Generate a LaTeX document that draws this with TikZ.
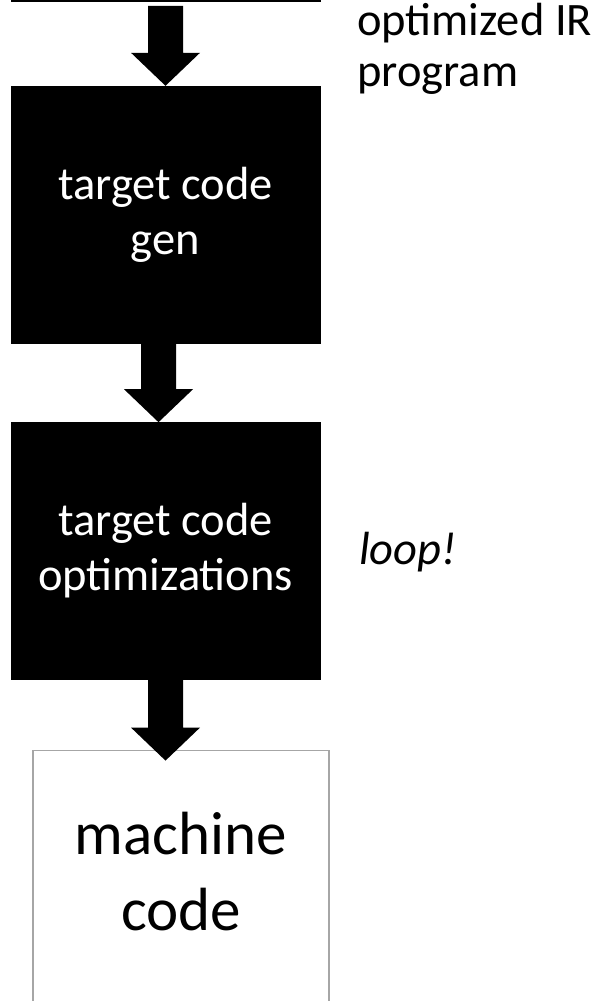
\documentclass[tikz,border=0pt]{standalone}
\usepackage{fontspec}
\setmainfont{Carlito}
\usepackage{tikz}
\usetikzlibrary{positioning, calc}
\tikzset{
    stage/.style={draw=black, fill=black, text=white, align=center, minimum width=309pt, minimum height=257pt, inner sep=0pt, font=\fontsize{46.5}{55}\selectfont},
    result/.style={draw=black!35, line width=1.5pt, fill=white, align=center, minimum width=296pt, minimum height=290pt, inner sep=0pt, font=\fontsize{61}{76}\selectfont},
    note/.style={align=left, inner sep=0pt, font=\fontsize{46.5}{51}\selectfont},
    fat/.style={to path={let \p1=(\tikztostart), \p2=(\tikztotarget) in
        (\x2-17.5pt,\y1) -- (\x2-17.5pt,\y2+33pt) -- (\x2-34.5pt,\y2+33pt) -- (\x2,\y2)
        -- (\x2+34.5pt,\y2+33pt) -- (\x2+17.5pt,\y2+33pt) -- (\x2+17.5pt,\y1) -- cycle}},
}
\begin{document}
\begin{tikzpicture}[x=1pt, y=-1pt]
    \useasboundingbox (0,0) rectangle (615,1001);
    \clip (0,0) rectangle (615,1001);

    \node[stage] (gen) at (165.5,214.5) {target code\\gen};
    \node[stage, above=84pt of gen] (ir) {};
    \node[stage, below=79pt of gen] (opt) {target code\\optimizations};
    \node[result, below=70pt of opt, xshift=15.5pt, anchor=north] (mc) {};
    \node[font=\fontsize{61}{76}\selectfont, align=center] (mctext) at ($(mc.north)+(0,122)$) {machine\\code};

    \fill ($(ir.south)+(0,4)$) to[fat] (gen.north);
    \fill ($(gen.south)+(-7,0)$) to[fat] ($(opt.north)+(-7,0)$);
    \fill (opt.south) to[fat] ($(mc.north)+(-15.5,11)$);

    \node[note, anchor=north west] (irtext) at (357,3) {optimized IR\\program};
    \node[note, anchor=west] (loop) at (359,552) {\itshape loop!};
\end{tikzpicture}
\end{document}
